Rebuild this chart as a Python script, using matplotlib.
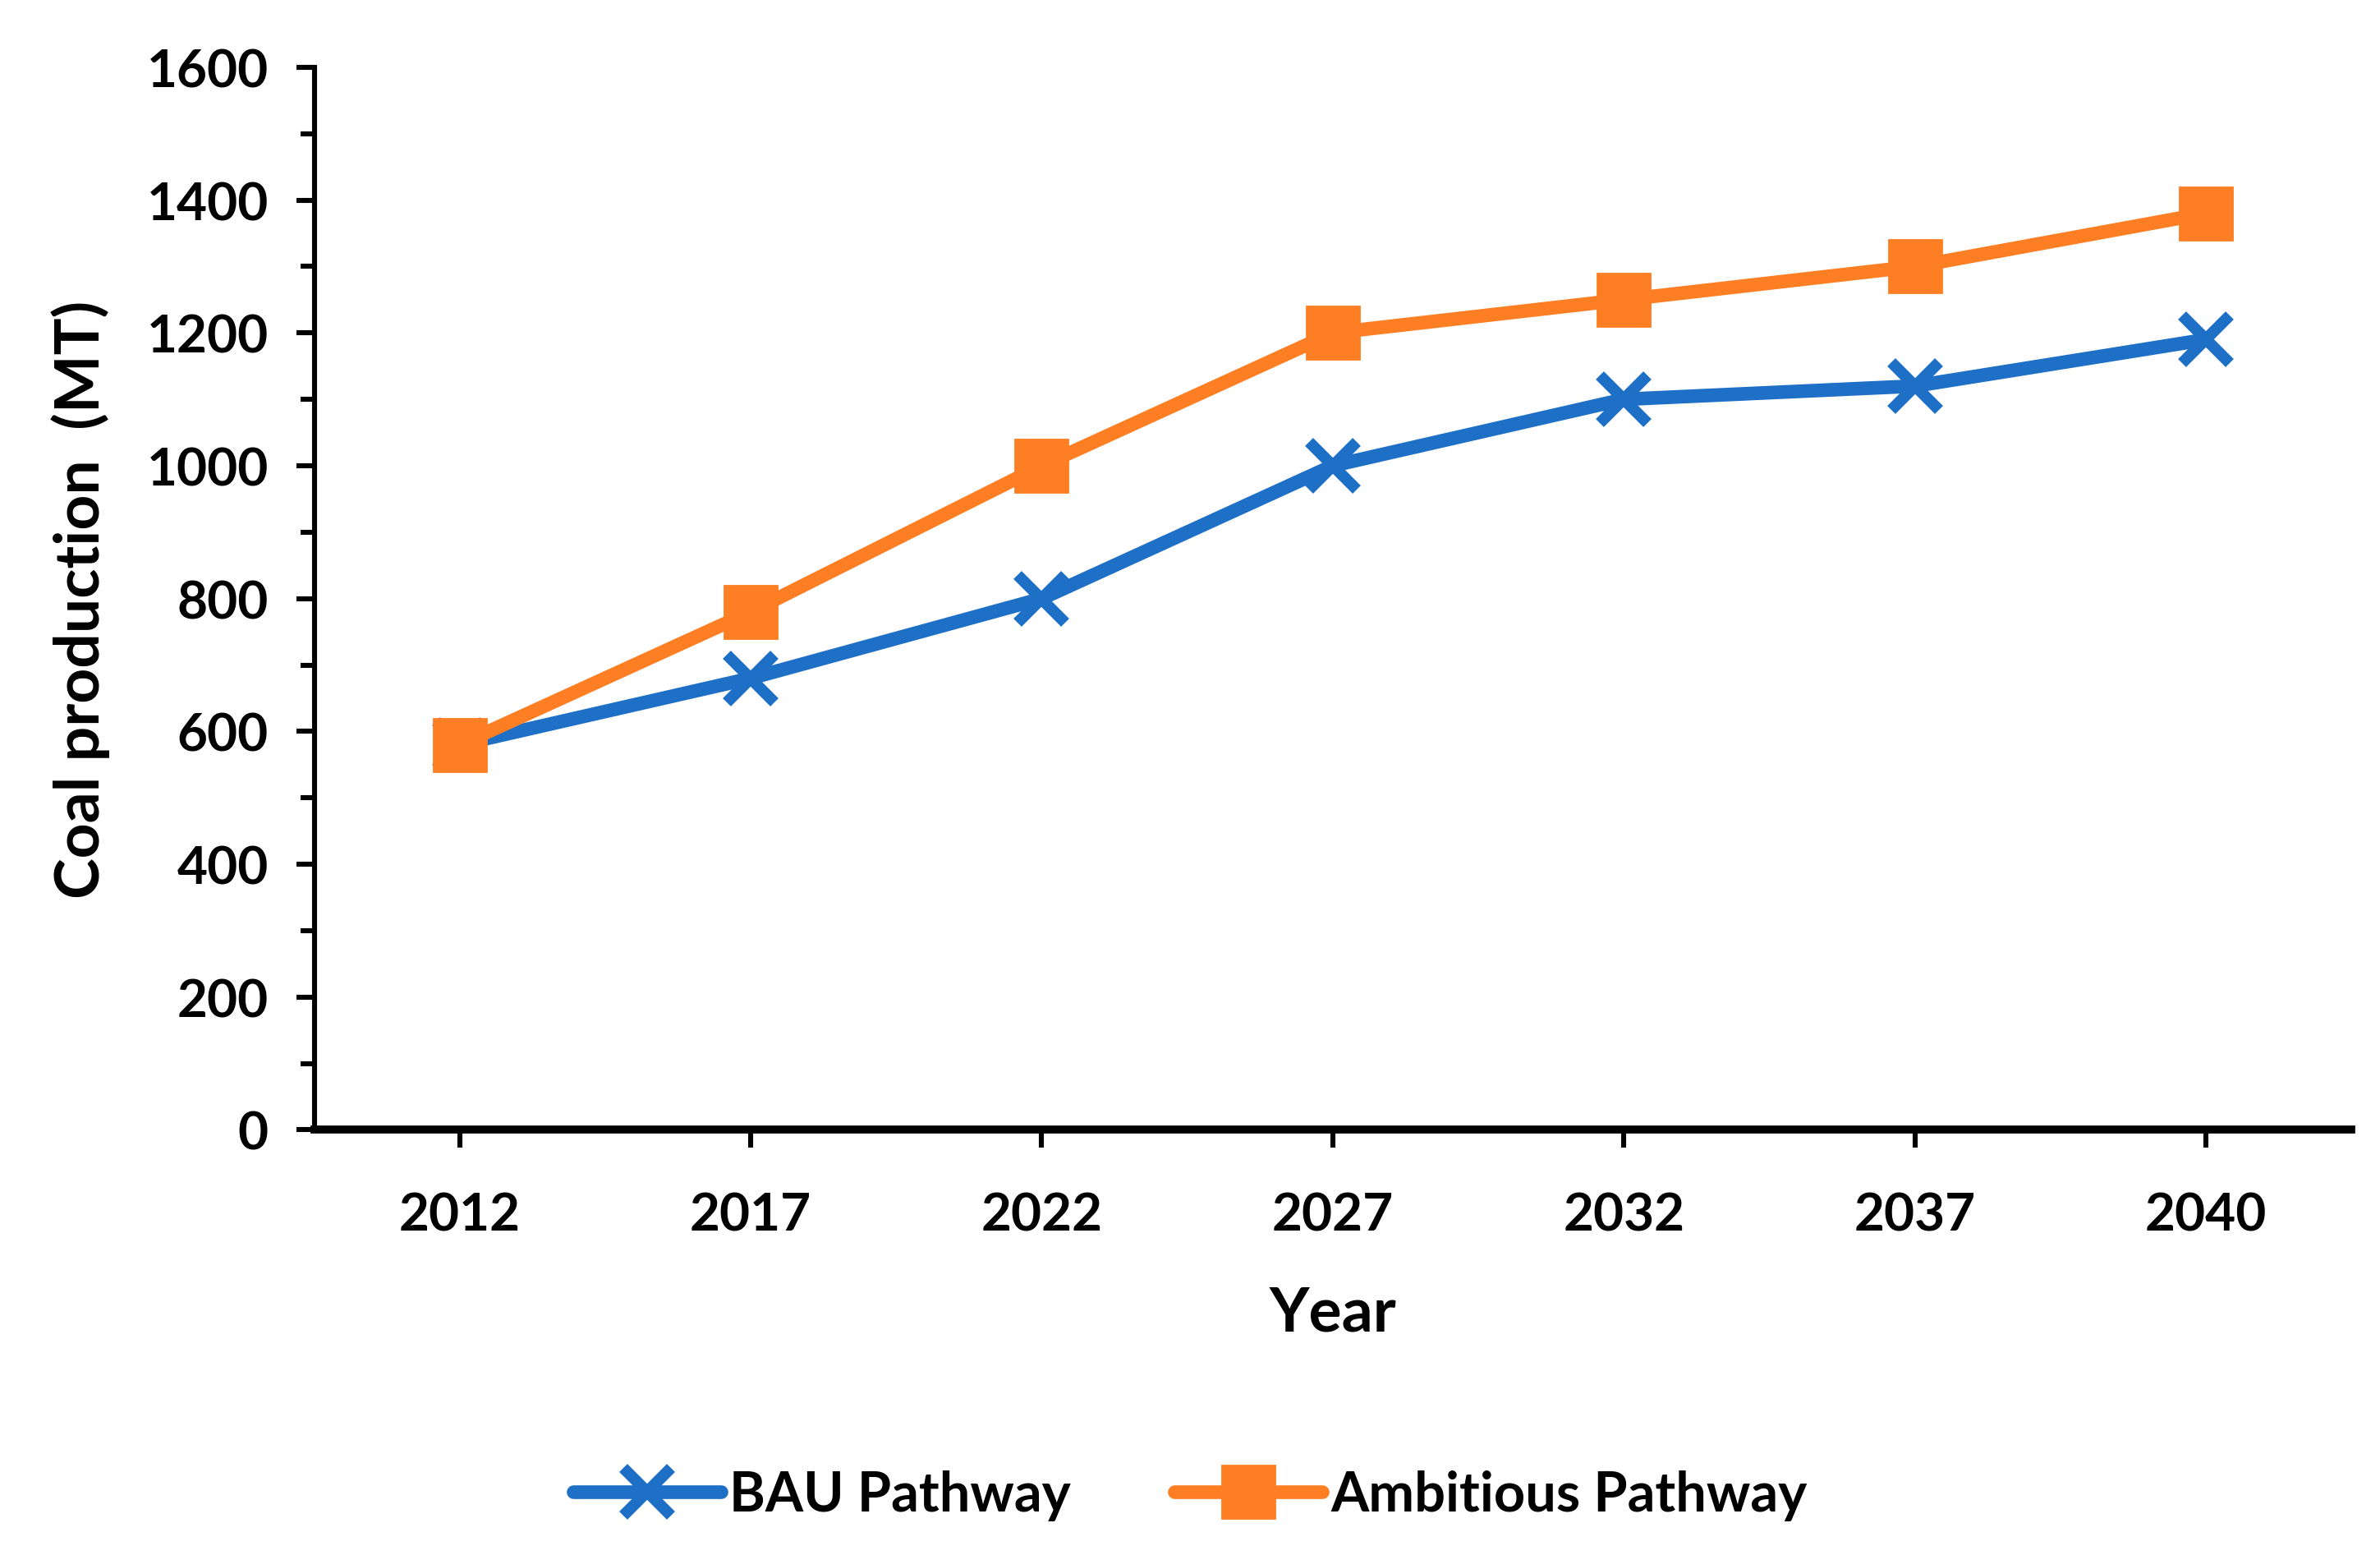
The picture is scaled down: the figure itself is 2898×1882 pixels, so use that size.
import matplotlib
matplotlib.use("Agg")
import matplotlib.pyplot as plt
from matplotlib.ticker import MultipleLocator

years = ["2012", "2017", "2022", "2027", "2032", "2037", "2040"]
bau = [580, 680, 800, 1000, 1100, 1120, 1190]
ambitious = [580, 780, 1000, 1200, 1250, 1300, 1380]
series_labels = ["BAU Pathway", "Ambitious Pathway"]
y_ticks = [0, 200, 400, 600, 800, 1000, 1200, 1400, 1600]

plt.rcParams['font.family'] = ['Lato', 'DejaVu Sans']
plt.rcParams['font.weight'] = 'bold'

fig = plt.figure(figsize=(14.49, 9.415), dpi=200)
ax = fig.add_axes([0.132, 0.269, 0.856, 0.687])

x = list(range(len(years)))
blue = "#1E6FC6"
orange = "#FD7E23"
ax.plot(x, bau, color=blue, lw=6, marker="x", markersize=21, markeredgewidth=5,
        label=series_labels[0], solid_capstyle="round")
ax.plot(x, ambitious, color=orange, lw=6, marker="s", markersize=23,
        label=series_labels[1], solid_capstyle="round")

ax.set_xlim(-0.5, len(years) - 0.5)
ax.set_ylim(0, 1600)
ax.set_xticks(x)
ax.set_xticklabels(years)
ax.set_yticks(y_ticks)
ax.yaxis.set_minor_locator(MultipleLocator(100))

for s in ["top", "right"]:
    ax.spines[s].set_visible(False)
ax.spines["left"].set_linewidth(2.2)
ax.spines["bottom"].set_linewidth(3.5)

ax.tick_params(axis="y", which="major", direction="out", length=8, width=2.2,
               labelsize=23, pad=12)
ax.tick_params(axis="y", which="minor", direction="out", length=6, width=2.2)
ax.tick_params(axis="x", which="major", direction="out", length=8, width=2.2,
               labelsize=23, pad=19)
for lab in ax.get_xticklabels() + ax.get_yticklabels():
    lab.set_fontweight("bold")

ax.set_xlabel("Year", fontsize=27, fontweight="bold", labelpad=20)
ax.set_ylabel("Coal production  (MT)", fontsize=27, fontweight="bold", labelpad=16)

leg = fig.legend(loc="center", bbox_to_anchor=(0.5, 0.033), ncol=2, frameon=False,
                 fontsize=24, handlelength=2.7, handletextpad=0.15, columnspacing=1.9)
for t in leg.get_texts():
    t.set_fontweight("bold")

fig.savefig("out.png", dpi=200)
